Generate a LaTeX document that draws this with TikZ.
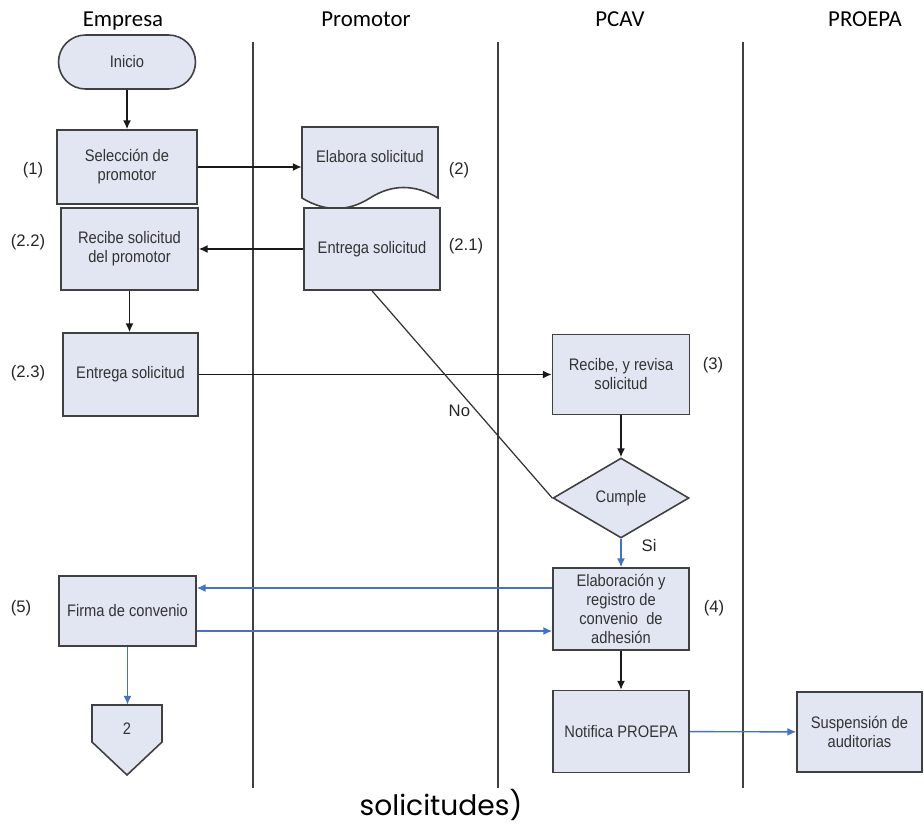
\documentclass[tikz,border=0pt]{standalone}
\usepackage{fontspec}
\setmainfont{Liberation Sans}
\newfontfamily\boxfont[FakeStretch=0.88]{Liberation Sans}
\newfontfamily\lanefont{Carlito}
\newfontfamily\capfont{Poppins}
\usetikzlibrary{shapes.geometric, arrows.meta}
\definecolor{boxfill}{HTML}{E1E6F2}
\definecolor{flowblue}{HTML}{4472C4}

\begin{document}
\begin{tikzpicture}[x=0.02cm, y=-0.02cm,
    proc/.style={rectangle, draw=black!75, line width=0.9pt, fill=boxfill, minimum width=2.74cm, text=black!80, font=\boxfont\fontsize{9.5}{10.8}\selectfont, align=center, inner sep=1pt},
    decision/.style={diamond, draw=black!75, line width=0.9pt, fill=boxfill, minimum width=2.72cm, minimum height=1.6cm, inner sep=0pt, text=black!80, font=\boxfont\fontsize{9.5}{10.8}\selectfont},
    plain/.style={text=black!80, font=\boxfont\fontsize{9.5}{10.8}\selectfont, align=center, inner sep=0pt},
    lane/.style={draw=black!75, line width=0.8pt},
    header/.style={font=\lanefont\fontsize{13}{15}\selectfont, anchor=base},
    num/.style={font=\fontsize{9.5}{11}\selectfont, text=black!85},
    arrow/.style={->, >={Latex[length=5pt,width=4.5pt]}, line width=0.8pt, draw=black!90},
    bluearrow/.style={->, >={Latex[length=5pt,width=4.5pt]}, line width=0.8pt, draw=flowblue}
]
\useasboundingbox (0,0) rectangle (924,825);

% Lanes
\node[header] (h_empresa) at (123,26) {Empresa};
\node[header] (h_promotor) at (366,26) {Promotor};
\node[header] (h_pcav) at (620,26) {PCAV};
\node[header] (h_proepa) at (865,26) {PROEPA};
\foreach \x in {253,498,743}
    \draw[lane] (\x,42) -- (\x,788);

% Empresa side
\node[proc, rounded corners=0.54cm, minimum height=1.08cm] (inicio) at (127,62) {Inicio};
\node[proc, minimum width=2.8cm, minimum height=1.48cm] (seleccion) at (127,167) {Selección de\\promotor};
\node[proc, minimum height=1.64cm] (recibe) at (129.5,249) {Recibe solicitud\\del promotor};
\node[proc, minimum width=2.7cm, minimum height=1.66cm] (entrega_emp) at (130.5,374.5) {Entrega solicitud};
\node[proc, minimum height=1.4cm] (firma) at (127.5,611) {Firma de convenio};
\filldraw[draw=black!75, line width=0.9pt, fill=boxfill] (92,705) -- (162,705) -- (162,742) -- (127,775) -- (92,742) -- cycle;
\node[plain, minimum height=0.96cm] (conn2) at (127,729) {2};

% Promotor side
\filldraw[draw=black!75, line width=0.9pt, fill=boxfill] (302,198) -- (302,127) -- (438,127) -- (438,198)
    .. controls (415,184) and (392,184) .. (370,198) .. controls (348,212) and (325,212) .. (302,198) -- cycle;
\node[plain, minimum width=2.72cm] (elabora) at (370,157) {Elabora solicitud};
\node[proc, minimum width=2.72cm, minimum height=1.64cm] (entrega_prom) at (372,249) {Entrega solicitud};

% PCAV side
\node[proc, minimum height=1.6cm] (revisa) at (621,374.5) {Recibe, y revisa\\solicitud};
\node[decision] (cumple) at (621,498) {Cumple};
\node[proc, minimum width=2.72cm, minimum height=1.64cm] (elaboracion) at (621,609) {Elaboración y\\registro de\\convenio~ de\\adhesión};
\node[proc, minimum width=2.72cm, minimum height=1.64cm] (notifica) at (621,731.5) {Notifica PROEPA};

% PROEPA side
\node[proc, minimum width=2.5cm, minimum height=1.6cm] (suspension) at (859.5,732) {Suspensión de\\auditorias};

% Step numbers
\node[num] (n1) at (33,170) {(1)};
\node[num] (n2) at (459,170) {(2)};
\node[num] (n22) at (28,242) {(2.2)};
\node[num] (n21) at (466,246) {(2.1)};
\node[num] (n23) at (28,373) {(2.3)};
\node[num] (n3) at (713,365) {(3)};
\node[num] (n4) at (714,608) {(4)};
\node[num] (n5) at (21,608) {(5)};

% Flow
\draw[arrow] (inicio) -- (seleccion);
\draw[arrow] (seleccion.east) -- (seleccion.east -| elabora.west);
\draw[arrow] (entrega_prom.west) -- (entrega_prom.west -| recibe.east);
\draw[arrow] (recibe.south) -- (recibe.south |- entrega_emp.north);
\draw[arrow] (entrega_emp.east) -- (entrega_emp.east -| revisa.west);
\draw[arrow] (revisa) -- (cumple);
\draw[line width=0.7pt, draw=black!80] (entrega_prom.south) -- (cumple.west) node[pos=0.58, left, num] {No};
\draw[bluearrow] (cumple.south) -- (elaboracion.north) node[pos=0.25, right=8pt, num] {Si};
\draw[bluearrow] ([yshift=0.42cm]elaboracion.west) -- ([yshift=0.42cm]elaboracion.west -| firma.east);
\draw[bluearrow] ([yshift=-0.4cm]firma.east) -- ([yshift=-0.4cm]firma.east -| elaboracion.west);
\draw[bluearrow] (firma.south) -- (firma.south |- conn2.north);
\draw[arrow] (elaboracion) -- (notifica);
\draw[bluearrow] (notifica) -- (suspension);

% Caption fragment
\node[font=\capfont\fontsize{16}{18}\selectfont, anchor=base] (caption) at (441,815) {solicitudes)};

\end{tikzpicture}
\end{document}
